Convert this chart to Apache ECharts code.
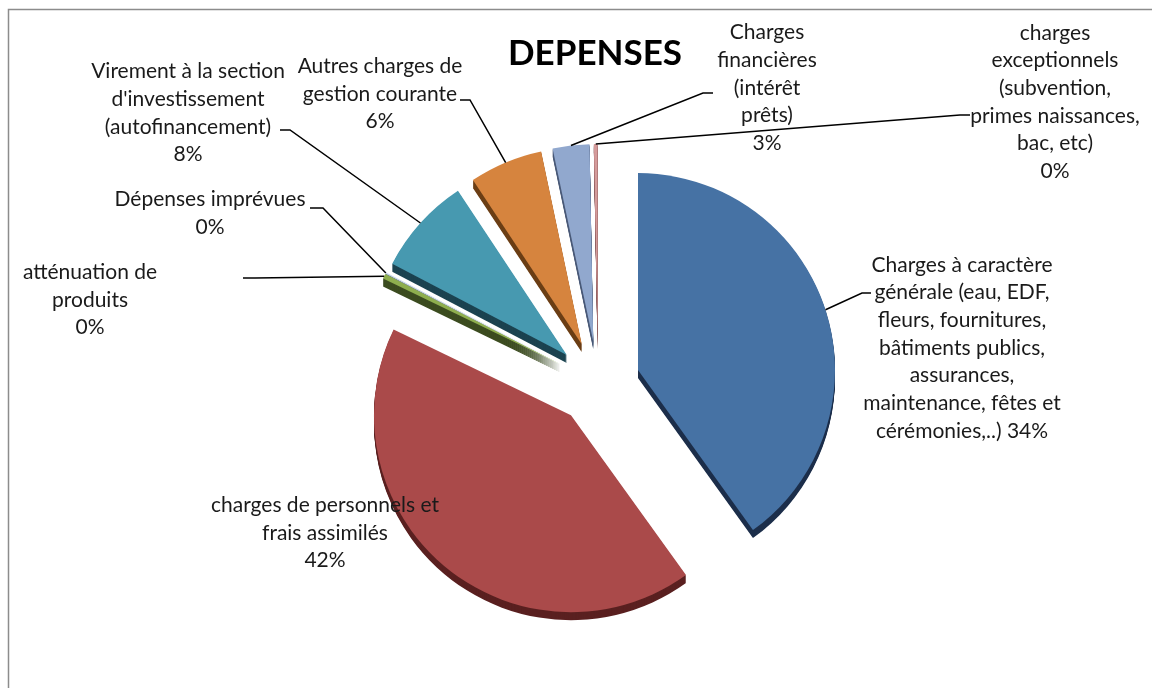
<!DOCTYPE html>
<html>
<head>
<meta charset="utf-8">
<script src="https://cdn.jsdelivr.net/npm/echarts@6/dist/echarts.min.js"></script>
<style>
html,body{margin:0;padding:0;background:#fff;}
#chart{width:1152px;height:688px;}
</style>
</head>
<body>
<div id="chart"></div>
<script>
// ---- data ----
const categories = [
  "Charges à caractère\ngénérale (eau, EDF,\nfleurs, fournitures,\nbâtiments publics,\nassurances,\nmaintenance, fêtes et\ncérémonies,..)",
  "charges de personnels et\nfrais assimilés",
  "atténuation de\nproduits",
  "Dépenses imprévues",
  "Virement à la section\nd'investissement\n(autofinancement)",
  "Autres charges de\ngestion courante",
  "Charges\nfinancières\n(intérêt\nprêts)",
  "charges\nexceptionnels\n(subvention,\nprimes naissances,\nbac, etc)"
];
// slice sizes as drawn in the picture (angular share)
const values = [40, 42, 0.4, 0.1, 8, 6, 3, 0.3];
// percentage texts as printed on the picture
const percentLabels = ["34%", "42%", "0%", "0%", "8%", "6%", "3%", "0%"];

// ---- styles / layout ----
const colors = ["#4672A4", "#AA4A4A", "#8EAE4E", "#C8D8E8", "#4799B0", "#D6843E", "#91A8CE", "#D59B9B"];
const darkColors = ["#1C2E4A", "#5A2020", "#3C4C20", "#6A7A8A", "#1C4350", "#6B3E15", "#4A5A78", "#7A4A4A"];
const labelPos = [
  [962, 348], [325, 533], [90, 300], [210, 213], [188, 113], [380, 94], [767, 88], [1055, 102]
];
const linePts = [
  [[862, 293], [871, 293]],
  null,
  [[255, 278], [243, 278]],
  [[323, 208], [310, 208]],
  [[290, 130], [280, 130]],
  [[470, 100], [460, 100]],
  [[703, 93], [713, 93]],
  [[960, 115], [970, 115]]
];
const CX = 598, CY = 383, R = 197, OFF = 42;
const FONT = 'Lato, "Open Sans", sans-serif';

function mkData(cols, selected) {
  return categories.map((c, i) => ({
    name: c, value: values[i], selected: selected,
    itemStyle: { color: cols[i] }
  }));
}

function pieBase(extra) {
  return Object.assign({
    type: 'pie', center: [CX, CY], radius: [0, R],
    startAngle: 90, clockwise: true,
    selectedMode: 'multiple', selectedOffset: OFF,
    animation: false, avoidLabelOverlap: false,
    emphasis: { disabled: true },
    label: { show: false }, labelLine: { show: false }
  }, extra);
}

const series = [8, 7, 6, 5, 4, 3, 2, 1].map((dy) => pieBase({
  silent: true, z: 1, center: [CX, CY + dy], data: mkData(darkColors, true)
}));
series.push(pieBase({ silent: true, z: 2, data: mkData(colors, true) }));
// label layer (transparent sectors, carries labels and leader lines)
series.push(pieBase({
  silent: true, z: 3, selectedMode: false,
  itemStyle: { color: 'rgba(0,0,0,0)' },
  label: {
    show: true, position: 'outside',
    fontFamily: FONT, fontSize: 21, lineHeight: 27.7, color: '#1a1a1a',
    align: 'center',
    formatter: (p) => p.name + (p.dataIndex === 0 ? ' ' : '\n') + percentLabels[p.dataIndex]
  },
  labelLine: { show: true, lineStyle: { color: '#000', width: 1.5 } },
  labelLayout: (params) => {
    const i = params.dataIndex;
    const res = { x: labelPos[i][0], y: labelPos[i][1], align: 'center', verticalAlign: 'middle' };
    if (linePts[i] && params.labelLinePoints) {
      const p0 = params.labelLinePoints[0];
      const dx = p0[0] - CX, dy = p0[1] - CY, L = Math.sqrt(dx * dx + dy * dy) || 1;
      const a = [p0[0] + OFF * dx / L, p0[1] + OFF * dy / L];
      res.labelLinePoints = [a, linePts[i][0], linePts[i][1]];
    }
    return res;
  },
  data: categories.map((c, i) => ({
    name: c, value: values[i],
    itemStyle: { color: 'rgba(0,0,0,0)' },
    labelLine: { show: i !== 1 }
  }))
}));

const chart = echarts.init(document.getElementById('chart'), null, { renderer: 'canvas' });
chart.setOption({
  backgroundColor: '#fff',
  animation: false,
  title: {
    text: 'DEPENSES', left: 590, top: 31, textAlign: 'center',
    textStyle: { fontFamily: FONT, fontWeight: 'bold', fontSize: 35, color: '#000' }
  },
  graphic: [{
    type: 'rect', silent: true, z: -10,
    shape: { x: 8.5, y: 9.5, width: 1200, height: 700 },
    style: { fill: 'none', stroke: '#8c8c8c', lineWidth: 1.5 }
  }],
  series: series
});
</script>
</body>
</html>
